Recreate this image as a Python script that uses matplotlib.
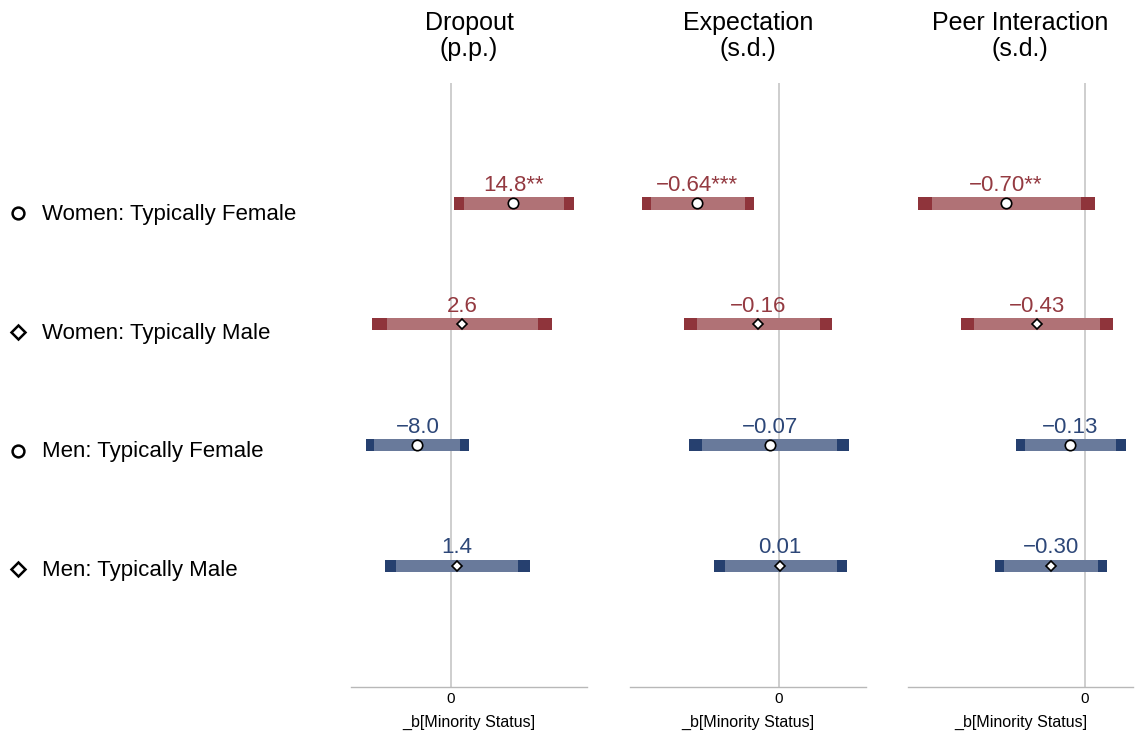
import matplotlib
matplotlib.use("Agg")
import matplotlib.pyplot as plt
import numpy as np

plt.rcParams['font.family'] = ['Liberation Sans', 'DejaVu Sans']

# outcomes (panels) and groups (rows)
outcomes = ["Dropout\n(p.p.)", "Expectation\n(s.d.)", "Peer Interaction\n(s.d.)"]
groups = ["Women: Typically Female", "Women: Typically Male",
          "Men: Typically Female", "Men: Typically Male"]
group_marker = ["o", "D", "o", "D"]
group_sex = ["women", "women", "men", "men"]

# point estimates
dropout_b = [14.8, 2.6, -8.0, 1.4]
expect_b = [-0.64, -0.16, -0.07, 0.01]
peer_b = [-0.70, -0.43, -0.13, -0.30]

# 95% confidence intervals
dropout_lo95 = [0.6, -18.8, -20.2, -15.8]
dropout_hi95 = [29.1, 24.0, 4.2, 18.8]
expect_lo95 = [-1.077, -0.742, -0.703, -0.506]
expect_hi95 = [-0.194, 0.421, 0.555, 0.537]
peer_lo95 = [-1.479, -1.098, -0.614, -0.797]
peer_hi95 = [0.086, 0.243, 0.358, 0.195]

# 90% confidence intervals
dropout_lo90 = [3.0, -15.2, -18.2, -13.1]
dropout_hi90 = [26.8, 20.6, 2.2, 15.9]
expect_lo90 = [-1.007, -0.645, -0.601, -0.422]
expect_hi90 = [-0.265, 0.325, 0.456, 0.456]
peer_lo90 = [-1.355, -0.986, -0.531, -0.717]
peer_hi90 = [-0.038, 0.130, 0.278, 0.115]

# significance stars
dropout_stars = ["**", "", "", ""]
expect_stars = ["***", "", "", ""]
peer_stars = ["**", "", "", ""]

decimals = [1, 2, 2]

panels = [
    (dropout_b, dropout_lo95, dropout_hi95, dropout_lo90, dropout_hi90, dropout_stars),
    (expect_b, expect_lo95, expect_hi95, expect_lo90, expect_hi90, expect_stars),
    (peer_b, peer_lo95, peer_hi95, peer_lo90, peer_hi90, peer_stars),
]

dark = {"women": "#8F343B", "men": "#26406F"}
light = {"women": "#B07276", "men": "#697A9B"}
txt = {"women": "#943A41", "men": "#2D4778"}

xlims = [(-23.75, 32.3), (-1.169, 0.682), (-1.57, 0.422)]
lefts = [0.3093, 0.5551, 0.800]
widths = [0.2079, 0.2075, 0.198]

fig = plt.figure(figsize=(11.35, 7.33), dpi=100)

rows = np.arange(1, len(groups) + 1)

for k in range(3):
    b, lo95, hi95, lo90, hi90, stars = panels[k]
    ax = fig.add_axes([lefts[k], 0.0632, widths[k], 0.824])
    ax.axvline(0, color="#C6C6C6", lw=1.2, zorder=0)
    for i in range(len(groups)):
        s = group_sex[i]
        ax.barh(rows[i], hi95[i] - lo95[i], left=lo95[i], height=0.1,
                color=dark[s], zorder=2)
        ax.barh(rows[i], hi90[i] - lo90[i], left=lo90[i], height=0.1,
                color=light[s], zorder=3)
        ms = 7.5 if group_marker[i] == "o" else 5.5
        ax.plot(b[i], rows[i], marker=group_marker[i], ms=ms, mfc="white",
                mec="black", mew=1.2, zorder=4)
        lab = f"{b[i]:.{decimals[k]}f}".replace("-", "\u2212") + stars[i]
        ax.annotate(lab, (b[i], rows[i]), xytext=(0, 9), textcoords="offset points",
                    ha="center", va="baseline", fontsize=16, color=txt[s])
    ax.set_xlim(*xlims[k])
    ax.set_ylim(5, 0)
    ax.set_yticks([])
    ax.set_xticks([0])
    ax.tick_params(axis="x", length=0, pad=4, labelsize=11)
    for sp in ["left", "right", "top"]:
        ax.spines[sp].set_visible(False)
    ax.spines["bottom"].set_color("#B8B8B8")
    ax.spines["bottom"].set_linewidth(1.0)
    ax.set_xlabel("_b[Minority Status]", fontsize=11.5, labelpad=6)
    ax.set_title(outcomes[k], fontsize=18, pad=19, linespacing=1.1)

# left-hand group labels
lax = fig.add_axes([0.0, 0.0632, 0.3, 0.8095])
lax.set_xlim(0, 340)
lax.set_ylim(5, 0)
lax.axis("off")
for i in range(len(groups)):
    ms = 8.5 if group_marker[i] == "o" else 7
    lax.plot(18, rows[i] + 0.01, marker=group_marker[i], ms=ms, mfc="white",
             mec="black", mew=1.8, clip_on=False)
    lax.text(42, rows[i] + 0.02, groups[i], fontsize=16, va="center", ha="left")

fig.savefig("out.png", dpi=100)
